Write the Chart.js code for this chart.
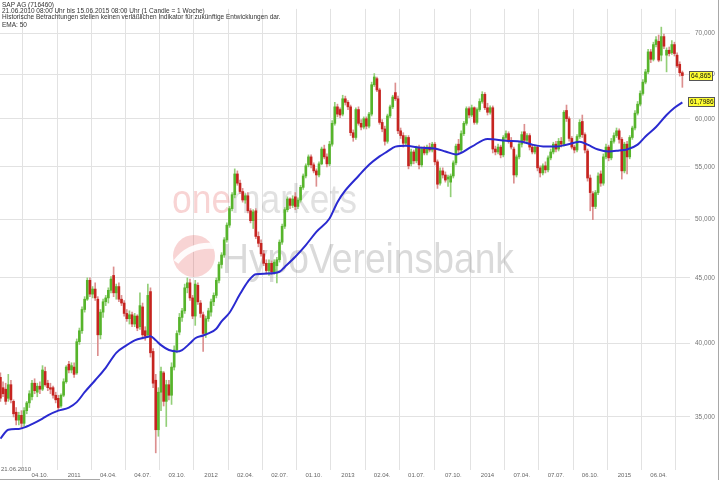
<!DOCTYPE html>
<html>
<head>
<meta charset="utf-8">
<script src="https://cdn.jsdelivr.net/npm/chart.js@4/dist/chart.umd.min.js"></script>
<style>
html, body { margin: 0; padding: 0; background: #fff; }
#wrap { width: 720px; height: 480px; }
</style>
</head>
<body>
<div id="wrap"><canvas id="myChart" width="720" height="480"></canvas></div>
<script>
// SAP AG, Wochenkerzen 21.06.2010 - 15.06.2015 (Werte in EUR)
const opens = [
  37.6,36.9,36.8,36.2,37.1,36.0,35.3,34.8,35.1,34.6,
  35.4,35.9,36.3,37.2,36.6,37.0,36.8,38.0,37.2,36.9,
  36.9,36.4,36.2,35.7,36.4,37.3,38.5,38.1,38.3,37.9,
  40.1,40.9,42.5,43.3,44.8,43.7,44.1,43.3,40.6,42.3,
  43.1,43.4,44.0,45.2,43.8,44.3,43.3,43.0,42.2,41.8,
  42.1,41.4,42.0,41.2,42.7,40.9,40.6,43.9,39.4,37.4,
  34.2,36.6,37.9,36.0,37.1,36.4,38.3,39.5,40.8,41.9,
  42.4,44.2,44.6,43.4,42.0,44.4,43.0,42.1,40.7,41.8,
  42.3,43.1,43.6,44.8,46.1,46.9,48.2,49.5,51.0,52.3,
  54.3,53.4,52.6,51.8,52.2,50.8,49.9,50.8,48.5,47.9,
  47.0,46.2,45.6,46.2,45.5,46.0,46.5,48.0,49.4,50.9,
  51.9,51.3,52.1,51.2,51.8,53.0,54.1,55.2,56.0,55.2,
  54.6,54.2,55.3,56.8,56.0,55.3,57.3,59.5,61.3,61.0,
  60.5,62.2,61.8,61.3,58.5,58.0,61.0,59.5,59.1,60.0,
  59.2,60.5,63.8,64.5,63.2,59.6,58.9,57.6,60.3,61.3,
  62.9,62.2,58.7,58.2,57.4,58.0,55.3,56.5,55.6,56.9,
  55.2,56.8,56.4,57.0,56.7,57.3,55.5,53.4,54.6,54.2,
  53.8,53.5,54.1,55.4,57.3,56.7,58.4,59.5,61.1,60.4,
  61.2,59.6,61.0,61.9,62.7,61.2,60.7,61.2,56.8,56.5,
  57.0,56.2,58.0,58.4,57.6,56.8,54.2,56.0,57.3,58.6,
  57.7,58.2,57.0,56.5,57.0,54.9,54.4,55.1,54.7,55.9,
  56.5,57.3,56.8,57.6,57.3,60.9,60.0,57.9,57.0,56.7,
  58.1,59.7,58.3,56.6,53.9,52.4,51.2,52.5,54.3,53.4,
  56.0,57.0,55.9,57.6,58.2,58.7,57.8,54.6,57.3,56.0,
  58.0,59.0,60.6,61.6,62.8,64.1,65.3,67.7,66.8,68.6,
  69.0,67.3,69.6,67.3,67.9,67.6,68.6,67.3,66.2,65.2
]
const highs = [
  37.9,37.3,37.2,37.8,37.4,36.1,35.6,35.3,35.4,35.6,
  36.0,36.7,37.4,37.5,37.2,37.3,38.4,38.3,37.4,37.2,
  37.0,36.6,36.4,36.5,37.5,38.4,38.7,38.6,38.6,40.3,
  41.1,42.7,43.5,45.0,45.0,44.3,44.6,43.5,42.5,43.3,
  43.6,44.2,45.1,45.9,44.5,44.6,43.6,43.2,42.5,42.4,
  42.3,42.2,42.1,43.8,43.0,41.2,44.5,44.2,39.6,37.8,
  36.9,38.3,38.0,37.4,37.4,38.6,39.8,40.9,42.2,42.6,
  44.5,45.0,44.9,43.6,44.8,44.6,43.2,42.3,42.0,42.6,
  43.3,43.8,45.0,46.3,47.1,48.4,49.7,51.2,52.5,54.8,
  54.6,53.7,52.9,52.4,52.5,51.0,50.9,51.0,48.9,48.2,
  47.3,46.5,46.5,46.4,46.5,46.7,48.2,49.6,51.1,52.1,
  52.0,52.2,52.5,52.0,53.2,54.3,55.3,56.2,56.2,55.4,
  54.8,55.5,57.0,57.2,56.3,57.6,59.8,61.8,61.6,61.2,
  62.6,62.5,62.0,61.5,58.8,61.2,61.3,59.9,60.2,60.2,
  60.7,64.1,65.1,64.7,63.4,59.9,59.2,60.5,61.5,62.6,
  64.0,62.5,59.0,58.5,58.2,58.2,56.8,56.7,57.1,57.2,
  57.0,57.1,57.2,57.4,57.5,57.5,55.7,54.9,54.9,54.5,
  54.2,54.3,55.6,57.3,57.8,58.7,59.7,61.3,61.3,61.5,
  61.3,61.2,62.2,63.0,62.9,61.7,61.4,61.4,57.1,57.3,
  57.2,58.2,58.7,58.6,58.0,57.0,56.2,57.5,58.6,59.4,
  58.4,58.4,57.2,57.2,57.1,55.1,55.3,55.5,56.1,56.8,
  57.5,57.6,57.9,58.0,60.9,61.5,60.2,58.1,57.2,58.3,
  59.9,60.4,58.5,56.8,54.2,52.6,52.7,54.4,54.6,56.3,
  57.3,57.2,57.9,58.5,59.0,58.9,58.0,57.5,57.6,58.2,
  59.2,60.9,61.9,63.1,64.4,65.6,68.0,68.0,68.9,69.6,
  69.8,70.8,69.9,68.2,68.3,69.1,68.9,67.6,66.5,65.4
]
const lows = [
  36.0,36.3,35.8,36.0,35.9,35.0,34.5,34.5,34.3,34.4,
  35.2,35.6,36.1,36.5,36.3,36.5,36.7,37.0,36.7,36.5,
  36.2,35.9,35.4,35.6,36.3,37.2,37.9,37.9,37.6,37.8,
  39.9,40.7,42.3,43.2,43.5,43.4,43.2,39.1,40.3,41.9,
  42.8,43.0,43.8,43.5,43.3,43.1,42.8,42.0,41.6,41.4,
  41.2,41.2,40.9,41.0,40.3,40.2,40.4,39.0,36.9,32.8,
  33.8,35.4,35.7,34.4,36.1,35.8,38.1,39.3,40.6,41.6,
  42.2,43.8,43.2,41.8,41.3,42.9,41.9,39.4,40.4,41.6,
  42.0,42.8,43.4,44.6,45.8,46.7,48.0,49.3,50.8,52.0,
  53.2,52.4,51.6,51.5,50.6,49.7,49.2,48.3,47.6,46.8,
  46.0,45.3,45.2,45.3,45.3,44.6,46.3,47.8,49.2,50.7,
  51.0,51.1,50.9,51.0,51.6,52.8,53.9,55.0,54.9,54.4,
  53.1,54.0,55.2,55.8,55.0,55.1,57.1,59.3,60.2,60.1,
  60.3,61.5,61.0,58.2,57.6,57.8,59.3,58.8,58.9,58.9,
  59.0,60.3,63.6,63.0,59.4,58.6,57.2,57.4,60.1,61.1,
  62.0,58.4,57.9,57.0,57.2,54.8,55.1,55.3,55.4,54.8,
  55.0,56.2,56.2,56.5,56.5,55.2,52.9,53.2,53.9,53.5,
  53.1,52.1,53.9,55.2,56.4,56.5,58.2,59.3,60.1,60.2,
  59.4,59.4,60.8,61.7,61.0,60.4,60.5,56.4,56.2,56.3,
  55.9,56.0,57.8,57.4,56.8,53.4,54.0,55.8,57.0,57.4,
  57.4,56.7,56.3,56.3,54.6,54.0,54.2,54.4,54.5,55.7,
  56.3,56.5,56.6,57.0,57.1,59.7,57.6,56.8,56.4,56.5,
  57.9,58.0,56.4,53.6,50.8,50.0,51.0,52.3,53.1,53.2,
  55.8,55.6,55.7,57.4,58.0,57.4,53.8,54.4,54.3,55.8,
  57.8,58.8,60.4,61.4,62.6,63.9,65.1,66.4,66.6,68.3,
  66.5,66.6,68.1,65.3,67.2,67.4,67.2,65.8,64.8,63.5
]
const closes = [
  36.2,36.5,36.0,37.1,36.1,35.2,34.8,35.1,34.6,35.4,
  35.9,36.5,37.2,36.7,37.0,36.8,38.1,37.1,36.9,36.8,
  36.4,36.1,35.6,36.4,37.3,38.3,38.1,38.4,37.8,40.1,
  40.9,42.5,43.3,44.8,43.7,44.1,43.4,40.6,42.3,43.1,
  43.4,44.0,44.9,43.8,44.3,43.3,43.0,42.2,41.8,42.1,
  41.4,42.0,41.1,42.8,40.6,40.5,43.6,39.3,37.2,34.2,
  36.6,38.0,36.0,37.1,36.4,38.3,39.5,40.7,41.9,42.4,
  44.2,44.6,43.4,42.0,44.5,43.1,42.2,40.7,41.8,42.4,
  43.1,43.6,44.8,46.1,46.9,48.2,49.5,51.0,52.3,54.3,
  53.4,52.6,51.8,52.2,50.8,49.9,50.7,48.5,47.9,47.0,
  46.2,45.6,46.2,45.5,46.3,46.5,48.0,49.4,50.9,51.9,
  51.3,51.9,51.2,51.8,53.0,54.1,55.1,56.0,55.2,54.6,
  54.2,55.3,56.8,56.0,55.3,57.3,59.5,61.3,60.5,60.4,
  62.2,61.8,61.3,58.5,58.0,61.0,59.5,59.1,60.0,59.2,
  60.5,63.8,64.7,63.2,59.6,58.9,57.6,60.3,61.3,62.4,
  62.2,58.7,58.2,57.4,58.0,55.1,56.5,55.6,56.9,55.2,
  56.8,56.4,57.0,56.7,57.3,55.5,53.3,54.6,54.2,53.7,
  54.0,54.1,55.4,57.1,56.7,58.4,59.5,61.1,60.4,61.2,
  59.6,61.0,61.9,62.7,61.2,60.7,61.2,56.8,56.5,57.0,
  56.2,58.0,58.4,57.6,57.0,54.2,56.0,57.3,58.3,57.7,
  58.2,57.0,56.5,57.0,54.9,54.4,55.1,54.7,55.9,56.5,
  57.3,56.8,57.6,57.3,60.7,60.0,57.9,57.0,56.7,58.1,
  59.6,58.3,56.7,53.9,52.5,51.2,52.5,54.1,53.4,56.0,
  57.0,55.9,57.6,58.2,58.7,57.8,54.6,57.3,56.0,58.0,
  59.0,60.6,61.6,62.8,64.1,65.3,67.7,66.8,68.6,69.2,
  66.7,69.6,68.4,67.9,67.5,68.6,67.5,66.0,65.2,64.865
]

// EMA 50 (Woche, Wert)
const emaWeeks = [0,3,7,10,12,16,18,22,26,29,32,36,40,44,48,51,55,57,59,61,64,67,69,72,74,77,79,82,84,87,91,94,97,101,106,108,112,116,120,125,128,131,136,140,144,147,150,154,159,165,169,173,179,185,192,198,202,207,211,215,220,223,227,231,235,238,242,245,249,253,256,259]
const emaValues = [33.65,34.2,34.25,34.4,34.55,34.9,35.1,35.4,35.6,35.95,36.6,37.4,38.25,39.3,39.85,40.2,40.4,40.5,40.2,39.85,39.5,39.4,39.5,39.98,40.35,40.55,40.7,41.05,41.6,42.25,43.7,44.7,45.3,45.35,45.5,45.9,46.75,47.75,48.9,50.1,51.6,52.7,54.1,55.2,56.05,56.55,57.05,57.15,56.95,56.85,56.55,56.25,57.05,57.85,57.65,57.55,57.25,57.05,57.05,57.25,57.55,57.25,56.75,56.55,56.65,56.75,57.25,58.1,59.1,60.4,61.2,61.7986]

const xTickWeeks = [15,28,41,54,67,80,93,106,119,132,145,158,172,185,198,211,224,237,250]
const xTickLabels = ['04.10.','2011','04.04.','04.07.','03.10.','2012','02.04.','02.07.','01.10.','2013','02.04.','01.07.','07.10.','2014','07.04.','07.07.','06.10.','2015','06.04.']
const yTickValues = [35,40,45,50,55,60,65,70]

const startLabel = '21.06.2010'
const headerLines = [
  'SAP AG (716460)',
  '21.06.2010 08:00 Uhr bis 15.06.2015 08:00 Uhr (1 Candle = 1 Woche)',
  'Historische Betrachtungen stellen keinen verläßlichen Indikator für zukünftige Entwicklungen dar.',
  'EMA: 50'
]

const FONT = '"Liberation Sans", Arial, sans-serif'
const GREEN = '#56b42b'
const RED = '#c62420'
const GREEN_WICK = '#93cf78'
const RED_WICK = '#dc8f8f'

const weeks = closes.map((c, i) => i)
const isUp = weeks.map(i => closes[i] >= opens[i])
const komma = (v, d) => v.toFixed(d).replace('.', ',')

const extras = {
  id: 'extras',
  beforeDatasetsDraw(chart) {
    const ctx = chart.ctx
    ctx.save()
    // Wasserzeichen
    ctx.font = '40px ' + FONT
    const wOne = ctx.measureText('one').width
    const wAll = ctx.measureText('onemarkets').width
    ctx.save()
    ctx.translate(172, 213)
    ctx.scale(185 / wAll, 1)
    ctx.fillStyle = 'rgba(225,60,60,0.22)'
    ctx.fillText('one', 0, 0)
    ctx.fillStyle = 'rgba(120,120,120,0.22)'
    ctx.fillText('markets', wOne, 0)
    ctx.restore()

    ctx.font = '43px ' + FONT
    const wHypo = ctx.measureText('HypoVereinsbank').width
    ctx.save()
    ctx.translate(222, 273)
    ctx.scale(292 / wHypo, 1)
    ctx.fillStyle = 'rgba(120,120,120,0.27)'
    ctx.fillText('HypoVereinsbank', 0, 0)
    ctx.restore()

    ctx.beginPath()
    ctx.arc(194, 256, 21, 0, Math.PI * 2)
    ctx.fillStyle = 'rgba(225,60,60,0.22)'
    ctx.fill()
    ctx.beginPath()
    ctx.moveTo(176, 262)
    ctx.quadraticCurveTo(190, 244, 214, 246)
    ctx.strokeStyle = 'rgba(255,255,255,0.9)'
    ctx.lineWidth = 6
    ctx.stroke()
    ctx.restore()
  },
  afterDraw(chart) {
    const ctx = chart.ctx
    const y = chart.scales.y
    const last = closes.length - 1
    ctx.save()
    ctx.fillStyle = '#333'
    ctx.font = '6.5px ' + FONT
    ctx.textBaseline = 'alphabetic'
    ctx.textAlign = 'left'
    const base = [7, 13, 19, 27]
    headerLines.forEach((t, k) => ctx.fillText(t, 2, base[k]))

    ctx.fillStyle = '#666'
    ctx.font = '6px ' + FONT
    ctx.fillText(startLabel, 1, 471)

    // Rahmen rechts und Scrollleiste unten
    ctx.strokeStyle = '#a8a8a8'
    ctx.lineWidth = 1
    ctx.beginPath()
    ctx.moveTo(718.5, 0)
    ctx.lineTo(718.5, 480)
    ctx.moveTo(0, 479.5)
    ctx.lineTo(100, 479.5)
    ctx.stroke()

    // Wertkaesten
    const boxes = [
      { v: closes[last], t: komma(closes[last], 3), x: 689, w: 24 },
      { v: emaValues[emaValues.length - 1], t: komma(emaValues[emaValues.length - 1], 4), x: 688, w: 27 }
    ]
    ctx.font = '6.5px ' + FONT
    ctx.textBaseline = 'middle'
    boxes.forEach(b => {
      const py = Math.round(y.getPixelForValue(b.v))
      ctx.fillStyle = '#ffff33'
      ctx.fillRect(b.x, py - 5, b.w, 10)
      ctx.strokeStyle = '#555'
      ctx.strokeRect(b.x + 0.5, py - 4.5, b.w - 1, 9)
      ctx.fillStyle = '#111'
      ctx.fillText(b.t, b.x + 2, py + 0.5)
    })
    ctx.restore()
  }
}

const ctx = document.getElementById('myChart').getContext('2d')

new Chart(ctx, {
  type: 'bar',
  data: {
    datasets: [
      {
        type: 'line',
        label: 'EMA 50',
        data: emaWeeks.map((w, k) => ({ x: w, y: emaValues[k] })),
        borderColor: '#2a2ad0',
        borderWidth: 2,
        pointRadius: 0,
        cubicInterpolationMode: 'monotone',
        order: 1
      },
      {
        label: 'Kerze',
        data: weeks.map(i => ({ x: i, y: [opens[i], closes[i]] })),
        backgroundColor: weeks.map(i => isUp[i] ? GREEN : RED),
        barThickness: 2,
        minBarLength: 1,
        grouped: false,
        order: 2
      },
      {
        label: 'Docht',
        data: weeks.map(i => ({ x: i, y: [lows[i], highs[i]] })),
        backgroundColor: weeks.map(i => isUp[i] ? GREEN_WICK : RED_WICK),
        barThickness: 1,
        grouped: false,
        order: 3
      }
    ]
  },
  options: {
    responsive: false,
    animation: false,
    devicePixelRatio: 1,
    layout: { padding: 0 },
    plugins: {
      legend: { display: false },
      tooltip: { enabled: false }
    },
    scales: {
      x: {
        type: 'linear',
        min: -0.15,
        max: 261.9,
        offset: false,
        bounds: 'data',
        afterBuildTicks: s => { s.ticks = xTickWeeks.map(v => ({ value: v })) },
        afterFit: s => { s.height = 10 },
        grid: { color: '#e2e2e2', drawTicks: false },
        border: { display: false },
        ticks: {
          autoSkip: false,
          maxRotation: 0,
          padding: 2,
          color: '#666',
          font: { size: 6, family: FONT },
          callback: v => xTickLabels[xTickWeeks.indexOf(v)]
        }
      },
      y: {
        type: 'logarithmic',
        position: 'right',
        min: 31.8,
        max: 73.17,
        bounds: 'data',
        afterBuildTicks: s => { s.ticks = yTickValues.map(v => ({ value: v })) },
        afterFit: s => { s.width = 30 },
        grid: { color: '#e2e2e2', drawTicks: false },
        border: { display: false },
        ticks: {
          padding: 5,
          color: '#777',
          font: { size: 6.5, family: FONT },
          callback: v => komma(v, 3)
        }
      }
    }
  },
  plugins: [extras]
})
</script>
</body>
</html>
